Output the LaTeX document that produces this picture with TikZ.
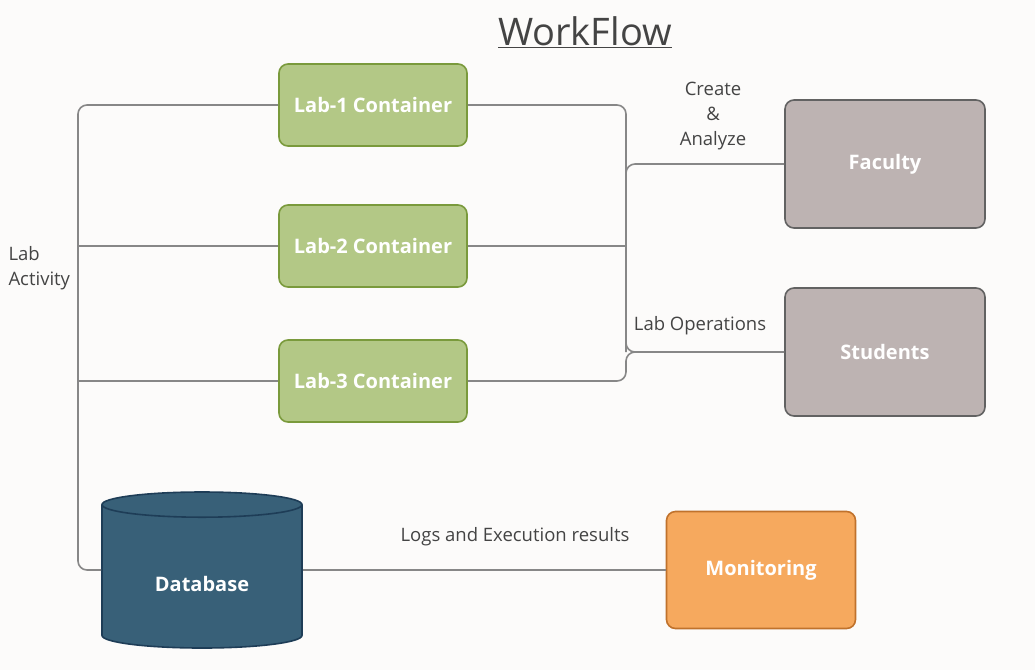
\documentclass[tikz,border=0pt]{standalone}
\usepackage{fontspec}
\setmainfont{Open Sans}
\usetikzlibrary{shapes.geometric}
\definecolor{labfill}{HTML}{B3C886}
\definecolor{labline}{HTML}{7A9A3C}
\definecolor{userfill}{HTML}{BDB3B2}
\definecolor{userline}{HTML}{626262}
\definecolor{dbfill}{HTML}{386078}
\definecolor{dbline}{HTML}{1E3D57}
\definecolor{monfill}{HTML}{F6A95E}
\definecolor{monline}{HTML}{C0722C}
\definecolor{wire}{HTML}{878787}
\definecolor{ink}{HTML}{444444}
\definecolor{paper}{HTML}{FCFBFA}
\begin{document}
\begin{tikzpicture}[x=1pt,y=-1pt,
  box/.style={draw,line width=1.6pt,rounded corners=9pt,text=white,font=\fontsize{20}{24}\selectfont\bfseries},
  lab/.style={box,fill=labfill,draw=labline,minimum width=188pt,minimum height=82pt},
  user/.style={box,fill=userfill,draw=userline,minimum width=200pt,minimum height=128pt},
  link/.style={wire,line width=1.6pt,rounded corners=9pt},
  tag/.style={text=ink,font=\fontsize{18.5}{25}\selectfont,align=center}]
\fill[paper] (0,0) rectangle (1035,670);
\useasboundingbox (0,0) rectangle (1035,670);
% title
\node[text=ink,font=\fontsize{38}{44}\selectfont] (title) at (585,32) {\underline{WorkFlow}};
% lab containers
\node[lab] (lab1) at (373,105) {Lab-1 Container};
\node[lab] (lab2) at (373,246) {Lab-2 Container};
\node[lab] (lab3) at (373,381) {Lab-3 Container};
% users
\node[user] (fac) at (885,164) {Faculty};
\node[user] (stu) at (885,352) {Students};
% storage and monitoring
\node[cylinder,shape border rotate=90,aspect=0.25,draw=dbline,fill=dbfill,line width=1.6pt,anchor=shape center,
  minimum width=200pt,minimum height=156pt,text=white,font=\fontsize{20}{24}\selectfont\bfseries] (db) at (202,570) {\raisebox{0pt}[34pt][8pt]{Database}};
\node[box,fill=monfill,draw=monline,minimum width=189pt,minimum height=117pt] (mon) at (761,570) {Monitoring};
% trunks
\coordinate (trunkL) at (78,0);
\coordinate (trunkR) at (626,0);
% connectors
\draw[link] (lab1.west) -| (trunkL |- db.shape center) -- (db.shape center -| db.west);
\draw[link] (lab2.west) -- (trunkL |- lab2.west);
\draw[link] (lab3.west) -- (trunkL |- lab3.west);
\draw[link] (lab1.east) -| (trunkR |- stu.west) -- (stu.west);
\draw[link] (fac.west) -| (trunkR |- stu.west);
\draw[link] (lab2.east) -- (trunkR |- lab2.east);
\draw[link] (lab3.east) -| (trunkR |- stu.west) -- (stu.west);
\draw[link] (db.shape center -| db.east) -- (mon.west);
% labels
\node[tag] (create) at (713,116) {Create\\\&\\Analyze};
\node[tag] (labops) at (700,326) {Lab Operations};
\node[tag] (logs) at (515,537) {Logs and Execution results};
\node[tag,align=left,anchor=west] (activity) at (5,268) {Lab\\Activity};
\end{tikzpicture}
\end{document}
